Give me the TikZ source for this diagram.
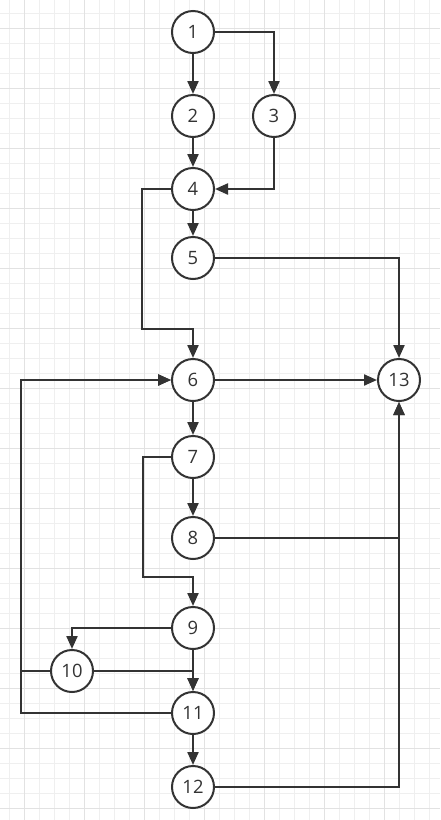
\documentclass[tikz,border=0pt]{standalone}
\usepackage{fontspec}
\setmainfont{Open Sans}
\usetikzlibrary{arrows.meta}

\definecolor{linegray}{HTML}{333333}
\definecolor{minorgrid}{HTML}{EFEFEF}
\definecolor{majorgrid}{HTML}{E2E2E2}

\tikzset{
  vertex/.style={circle,draw=linegray,line width=1pt,fill=white,
    minimum size=21pt,inner sep=0pt,font=\fontsize{9.2pt}{10pt}\selectfont,
    text=linegray},
  flow/.style={draw=linegray,line width=1.1pt,
    -{Triangle[length=6.5pt,width=5.5pt]}}
}

\begin{document}
\begin{tikzpicture}[x=0.5pt,y=-0.5pt]
% draw background grid
\fill[white] (0,0) rectangle (440,820);
\useasboundingbox (0,0) rectangle (440,820);
\foreach \x in {9,24,...,440}
  \draw[minorgrid,line width=0.5pt] (\x,0) -- (\x,820);
\foreach \y in {13,28,...,820}
  \draw[minorgrid,line width=0.5pt] (0,\y) -- (440,\y);
\foreach \x in {24,84,...,440}
  \draw[majorgrid,line width=0.5pt] (\x,0) -- (\x,820);
\foreach \y in {28,88,...,820}
  \draw[majorgrid,line width=0.5pt] (0,\y) -- (440,\y);

% draw nodes
\foreach \name/\x/\y in {1/193/32, 2/193/116, 3/274/116, 4/193/189,
  5/193/258, 6/193/380, 7/193/457, 8/193/538, 9/193/628,
  10/72/671, 11/193/713, 12/193/787, 13/399/380}
{
\node[vertex] (n\name) at (\x,\y) {\name};
}
\coordinate (leftrail) at (21,0);

% draw straight edges
\foreach \a/\b in {1/2, 2/4, 4/5, 6/7, 7/8, 9/11, 11/12, 6/13}
{
\draw[flow] (n\a) -- (n\b);
}

% draw bent edges
\draw[flow] (n1.east) -| (n3);
\draw[flow] (n3) |- (n4);
\draw[flow] (n4.west) -- ++(-29,0) -- ++(0,140) -| (n6);
\draw[flow] (n5.east) -| (n13);
\draw[flow] (n7.west) -- ++(-28,0) -- ++(0,120) -| (n9);
\draw[flow] (n8.east) -| (n13);
\draw[flow] (n9.west) -| (n10);
\draw[flow] (n10.east) -| (n11);
\draw[flow] (n10.west) -- (n10.west -| leftrail) |- (n6);
\draw[flow] (n11.west) -- (n11.west -| leftrail) |- (n6);
\draw[flow] (n12.east) -| (n13);
\end{tikzpicture}
\end{document}
